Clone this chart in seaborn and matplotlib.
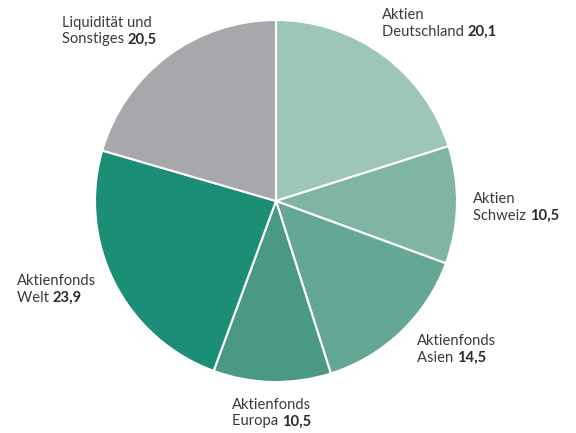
import matplotlib
matplotlib.use("Agg")
import matplotlib.pyplot as plt
import seaborn as sns

# data, clockwise from 12 o'clock
labels_top = ["Aktien", "Aktien", "Aktienfonds", "Aktienfonds", "Aktienfonds", "Liquidität und"]
labels_bottom = ["Deutschland", "Schweiz", "Asien", "Europa", "Welt", "Sonstiges"]
values = [20.1, 10.5, 14.5, 10.5, 23.9, 20.5]
value_text = ["20,1", "10,5", "14,5", "10,5", "23,9", "20,5"]
colors = ["#9dc5b8", "#80b5a6", "#65a795", "#4a9985", "#1d8e76", "#a7a8ab"]

# label anchor (left x, first-line baseline y) in pixels from top-left
label_pos = [(382, 19), (473, 203), (417, 345), (232, 409), (17, 285), (62, 27)]

sns.set_theme(style="white")
plt.rcParams["font.family"] = ["Lato", "DejaVu Sans"]

W, H = 576, 433
fig = plt.figure(figsize=(W / 100, H / 100), dpi=100)
cx, cy, r = 276, 201, 181
ax = fig.add_axes([(cx - r) / W, (H - cy - r) / H, 2 * r / W, 2 * r / H])
ax.pie(values, colors=colors, startangle=90, counterclock=False,
       wedgeprops=dict(edgecolor="white", linewidth=1.5))
ax.set_xlim(-1, 1)
ax.set_ylim(-1, 1)
ax.set_aspect("equal")
ax.axis("off")

txt_color = "#3a3a3a"
fs = 10.6
line_gap = 16.5
for top, bot, val, (px, py) in zip(labels_top, labels_bottom, value_text, label_pos):
    fig.text(px / W, 1 - py / H, top, fontsize=fs, color=txt_color,
             ha="left", va="baseline")
    t2 = fig.text(px / W, 1 - (py + line_gap) / H, bot + " ", fontsize=fs,
                  color=txt_color, ha="left", va="baseline")
    fig.draw_without_rendering()
    ax.annotate(val, xy=(1, 0), xycoords=t2, ha="left", va="bottom",
                fontsize=fs, fontweight="bold", color="#2b2b2b")

fig.savefig("out.png", dpi=100)
